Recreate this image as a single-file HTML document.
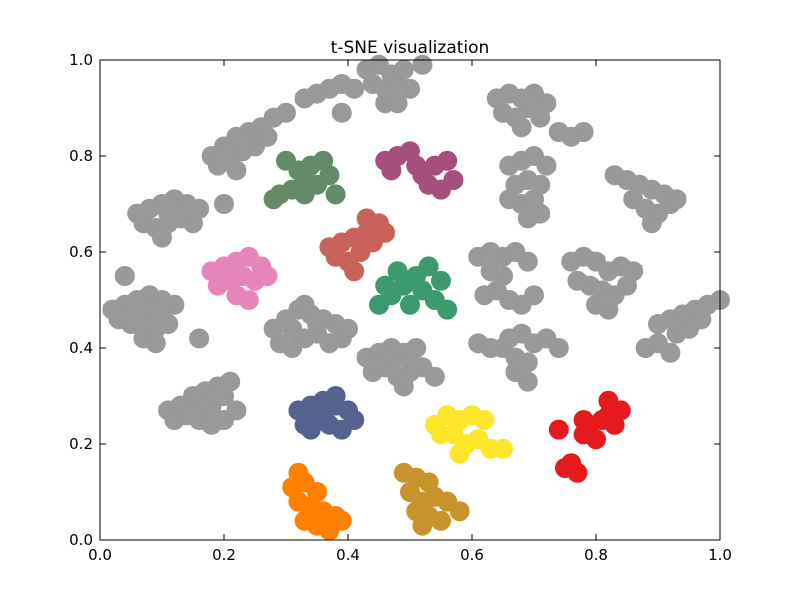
<!DOCTYPE html>
<html><head><meta charset="utf-8"><style>
body{margin:0;background:#fff}
svg text{font-family:"DejaVu Sans","Liberation Sans",sans-serif}
</style></head><body>
<svg id="chart" width="800" height="600">
<rect x="0" y="0" width="800" height="600" fill="#fff"/>
<text x="410" y="53" font-size="17" text-anchor="middle">t-SNE visualization</text>
<g id="blobs"></g>
<g id="points"></g>
<rect x="100" y="60" width="620" height="480" fill="none" stroke="#000" stroke-width="1"/>
<g id="axes"></g>
</svg>
<script>
const ticks=[0,0.2,0.4,0.6,0.8,1.0];
const tickLabels=["0.0","0.2","0.4","0.6","0.8","1.0"];
const labels=["0","1","2","3","4","5","6","7","8","9","10","11","12","13","14","15","16","17","18","19","20","21","22","23","14"];
const colors=["#e41a1c","#55628e","#3b9a6e","#66896a","#a64f7d","#ff7f00","#ffe52a","#c7932a","#c9625a","#e585b9"];
const pts0=[[0.75,0.15],[0.76,0.16],[0.77,0.14],[0.78,0.22],[0.79,0.24],[0.81,0.25],[0.82,0.26],[0.83,0.24],[0.80,0.21],[0.84,0.27],[0.78,0.25],[0.82,0.29],[0.74,0.23]];
const pts1=[[0.32,0.27],[0.34,0.28],[0.36,0.29],[0.38,0.28],[0.40,0.27],[0.33,0.24],[0.35,0.25],[0.37,0.24],[0.39,0.23],[0.41,0.25],[0.34,0.23],[0.38,0.30],[0.36,0.26]];
const pts2=[[0.45,0.49],[0.47,0.51],[0.49,0.53],[0.51,0.55],[0.53,0.57],[0.55,0.54],[0.52,0.52],[0.48,0.56],[0.46,0.53],[0.54,0.50],[0.50,0.49],[0.56,0.48]];
const pts3=[[0.29,0.72],[0.31,0.73],[0.33,0.72],[0.35,0.74],[0.37,0.76],[0.32,0.77],[0.34,0.78],[0.30,0.79],[0.36,0.79],[0.38,0.72],[0.28,0.71],[0.33,0.75]];
const pts4=[[0.46,0.79],[0.48,0.80],[0.50,0.81],[0.47,0.77],[0.52,0.76],[0.54,0.78],[0.56,0.79],[0.53,0.74],[0.55,0.73],[0.57,0.75],[0.51,0.78]];
const pts5=[[0.31,0.11],[0.33,0.12],[0.35,0.10],[0.32,0.08],[0.34,0.07],[0.36,0.06],[0.38,0.05],[0.35,0.03],[0.37,0.02],[0.33,0.04],[0.39,0.04],[0.32,0.14]];
const pts6=[[0.54,0.24],[0.56,0.26],[0.58,0.25],[0.60,0.26],[0.62,0.25],[0.57,0.22],[0.59,0.20],[0.61,0.21],[0.63,0.19],[0.65,0.19],[0.58,0.18],[0.55,0.22]];
const pts7=[[0.49,0.14],[0.51,0.13],[0.53,0.12],[0.50,0.10],[0.52,0.08],[0.54,0.09],[0.56,0.08],[0.51,0.06],[0.53,0.05],[0.55,0.04],[0.58,0.06],[0.52,0.03]];
const pts8=[[0.37,0.61],[0.39,0.62],[0.41,0.63],[0.43,0.64],[0.45,0.66],[0.38,0.59],[0.40,0.58],[0.42,0.60],[0.44,0.62],[0.46,0.64],[0.41,0.56],[0.43,0.67]];
const pts9=[[0.18,0.56],[0.20,0.57],[0.22,0.58],[0.24,0.59],[0.26,0.57],[0.19,0.53],[0.21,0.54],[0.23,0.55],[0.25,0.54],[0.27,0.55],[0.22,0.51],[0.24,0.50]];
const pts10=[[0.28,0.44],[0.30,0.46],[0.32,0.48],[0.34,0.47],[0.36,0.46],[0.38,0.45],[0.40,0.44],[0.29,0.41],[0.31,0.40],[0.33,0.42],[0.35,0.43],[0.37,0.41],[0.39,0.42],[0.33,0.49],[0.35,0.45],[0.31,0.44]];
const pts11=[[0.66,0.78],[0.68,0.79],[0.70,0.80],[0.72,0.78],[0.67,0.74],[0.69,0.75],[0.71,0.74],[0.66,0.71],[0.68,0.70],[0.70,0.71],[0.69,0.67],[0.71,0.68]];
const pts12=[[0.64,0.92],[0.66,0.93],[0.68,0.92],[0.70,0.93],[0.72,0.91],[0.65,0.89],[0.67,0.88],[0.69,0.90],[0.71,0.88],[0.68,0.86],[0.74,0.85],[0.76,0.84],[0.78,0.85]];
const pts13=[[0.88,0.40],[0.90,0.41],[0.92,0.39],[0.90,0.45],[0.92,0.46],[0.94,0.47],[0.96,0.48],[0.98,0.49],[1.00,0.50],[0.95,0.44],[0.97,0.46],[0.93,0.43]];
const pts14=[[0.61,0.59],[0.63,0.60],[0.65,0.59],[0.67,0.60],[0.69,0.58],[0.62,0.51],[0.64,0.52],[0.66,0.50],[0.68,0.49],[0.70,0.51],[0.65,0.55],[0.63,0.56]];
const pts15=[[0.61,0.41],[0.63,0.40],[0.66,0.42],[0.68,0.43],[0.70,0.41],[0.72,0.42],[0.74,0.40],[0.67,0.38],[0.69,0.37],[0.67,0.35],[0.69,0.33],[0.65,0.40]];
const pts16=[[0.18,0.80],[0.20,0.82],[0.22,0.84],[0.24,0.85],[0.26,0.86],[0.28,0.88],[0.30,0.89],[0.19,0.78],[0.21,0.79],[0.23,0.81],[0.25,0.82],[0.27,0.84],[0.22,0.77],[0.20,0.70]];
const pts17=[[0.76,0.58],[0.78,0.59],[0.80,0.58],[0.82,0.56],[0.84,0.57],[0.86,0.56],[0.77,0.54],[0.79,0.53],[0.81,0.52],[0.83,0.51],[0.85,0.53],[0.80,0.49],[0.82,0.48]];
const pts18=[[0.83,0.76],[0.85,0.75],[0.87,0.74],[0.89,0.73],[0.91,0.72],[0.93,0.71],[0.86,0.71],[0.88,0.69],[0.90,0.68],[0.92,0.70],[0.89,0.66]];
const pts19=[[0.06,0.68],[0.08,0.69],[0.10,0.70],[0.12,0.71],[0.14,0.70],[0.16,0.69],[0.07,0.66],[0.09,0.65],[0.11,0.66],[0.13,0.67],[0.15,0.66],[0.10,0.63],[0.11,0.68]];
const pts20=[[0.02,0.48],[0.04,0.49],[0.06,0.50],[0.08,0.51],[0.10,0.50],[0.12,0.49],[0.03,0.46],[0.05,0.45],[0.07,0.46],[0.09,0.44],[0.11,0.45],[0.07,0.42],[0.09,0.41],[0.08,0.48],[0.06,0.47],[0.10,0.47],[0.04,0.55],[0.16,0.42]];
const pts21=[[0.11,0.27],[0.13,0.28],[0.15,0.30],[0.17,0.31],[0.19,0.32],[0.21,0.33],[0.12,0.25],[0.14,0.26],[0.16,0.25],[0.18,0.24],[0.20,0.25],[0.22,0.27],[0.18,0.28],[0.20,0.30],[0.15,0.28],[0.17,0.27]];
const pts22=[[0.33,0.92],[0.35,0.93],[0.37,0.94],[0.39,0.95],[0.41,0.94],[0.39,0.89]];
const pts23=[[0.43,0.38],[0.45,0.39],[0.47,0.40],[0.49,0.39],[0.51,0.40],[0.44,0.35],[0.46,0.36],[0.48,0.34],[0.50,0.35],[0.52,0.36],[0.54,0.34],[0.49,0.32],[0.47,0.37],[0.50,0.37]];
const pts24=[[0.43,0.98],[0.45,0.99],[0.47,0.97],[0.49,0.98],[0.52,0.99],[0.44,0.95],[0.46,0.94],[0.48,0.95],[0.50,0.94],[0.46,0.91],[0.48,0.91]];
const allPts=[pts0,pts1,pts2,pts3,pts4,pts5,pts6,pts7,pts8,pts9,pts10,pts11,pts12,pts13,pts14,pts15,pts16,pts17,pts18,pts19,pts20,pts21,pts22,pts23,pts24];

const NS="http://www.w3.org/2000/svg";
const X=v=>100+620*v, Y=v=>540-480*v;
const gb=document.getElementById('blobs');
const gp=document.getElementById('points');
allPts.forEach((arr,ci)=>{
  const col=ci<10?colors[ci]:"#999999";
  arr.forEach(p=>{
    const c=document.createElementNS(NS,'circle');
    
    
    c.setAttribute('cx',X(p[0]));c.setAttribute('cy',Y(p[1]));
    c.setAttribute('r','10');c.setAttribute('fill',col);
    gb.appendChild(c);
    const t=document.createElementNS(NS,'text');
    
    
    t.setAttribute('x',X(p[0]));t.setAttribute('y',Y(p[1])+5);
    t.setAttribute('text-anchor','middle');t.setAttribute('font-size','15');
    t.setAttribute('font-weight','bold');t.setAttribute('fill',col);
    t.textContent=labels[ci];gp.appendChild(t);
  });
});
const ga=document.getElementById('axes');
function ln(x1,y1,x2,y2,n){const l=document.createElementNS(NS,'line');


l.setAttribute('x1',x1);l.setAttribute('y1',y1);l.setAttribute('x2',x2);l.setAttribute('y2',y2);l.setAttribute('stroke','#000');ga.appendChild(l);}
function tx(x,y,s,a,n){const t=document.createElementNS(NS,'text');


t.setAttribute('x',x);t.setAttribute('y',y);t.setAttribute('font-size','15');t.setAttribute('text-anchor',a);t.textContent=s;ga.appendChild(t);}
ticks.forEach((v,i)=>{
  const x=X(v),y=Y(v);
  ln(x,540,x,534,'x-tick');ln(x,60,x,66,'x-tick-top');
  ln(100,y,106,y,'y-tick');ln(720,y,714,y,'y-tick-right');
  tx(x,560,tickLabels[i],'middle','x-tick-label');
  tx(93,y+5,tickLabels[i],'end','y-tick-label');
});
</script>
</body></html>
